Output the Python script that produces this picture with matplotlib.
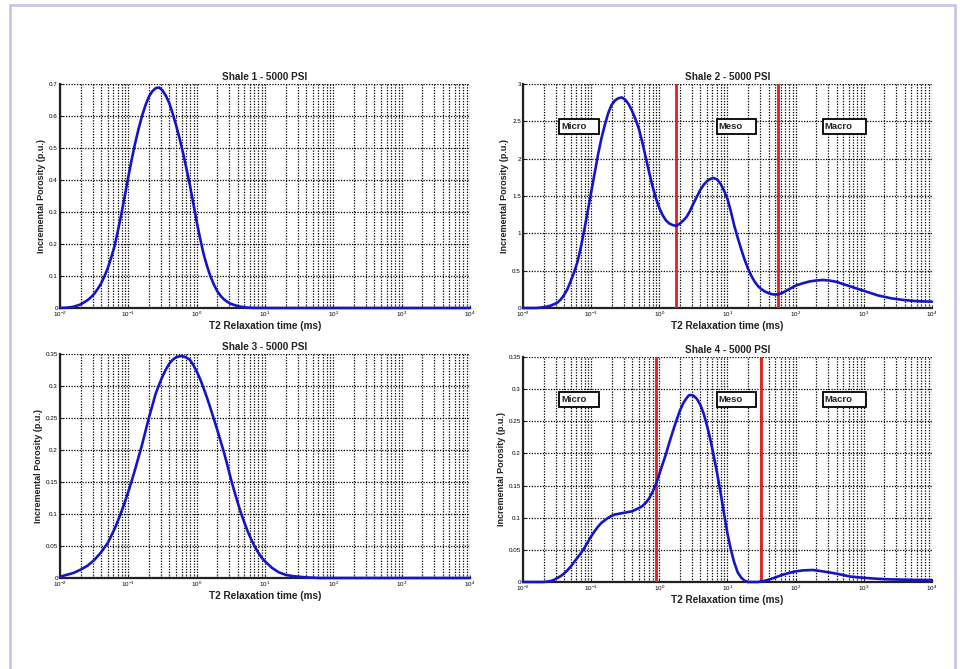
import matplotlib
matplotlib.use("Agg")
import matplotlib.pyplot as plt
import numpy as np
from matplotlib.patches import Rectangle
from matplotlib.ticker import FixedLocator, LogFormatterMathtext, MultipleLocator, FormatStrFormatter, NullFormatter

plt.rcParams['font.family'] = ['Liberation Sans', 'DejaVu Sans']
plt.rcParams['mathtext.fontset'] = 'custom'
plt.rcParams['mathtext.rm'] = 'Liberation Sans'

# ---- data: log10(T2 in ms) positions and incremental porosity (p.u.) ----
titles = ["Shale 1 - 5000 PSI", "Shale 2 - 5000 PSI", "Shale 3 - 5000 PSI", "Shale 4 - 5000 PSI"]

s1_logt2 = [-2.0, -1.9, -1.8, -1.7, -1.6, -1.55, -1.5, -1.45, -1.4, -1.35, -1.3, -1.25, -1.2, -1.15,
            -1.1, -1.05, -1.0, -0.95, -0.9, -0.85, -0.8, -0.75, -0.7, -0.65, -0.6, -0.55, -0.5, -0.45,
            -0.4, -0.35, -0.3, -0.25, -0.2, -0.15, -0.1, -0.05, 0.0, 0.05, 0.1, 0.15, 0.2, 0.25, 0.3,
            0.35, 0.4, 0.45, 0.5, 0.6, 0.7, 0.8, 1.0, 4.0]
s1_por = [0.0, 0.001, 0.004, 0.011, 0.024, 0.033, 0.044, 0.059, 0.076, 0.099, 0.125, 0.158, 0.195, 0.244,
          0.296, 0.353, 0.41, 0.465, 0.515, 0.56, 0.6, 0.633, 0.66, 0.677, 0.687, 0.689, 0.68, 0.663,
          0.64, 0.607, 0.57, 0.53, 0.485, 0.436, 0.385, 0.328, 0.27, 0.218, 0.17, 0.132, 0.1, 0.074, 0.053,
          0.038, 0.027, 0.019, 0.013, 0.006, 0.002, 0.0005, 0.0, 0.0]

s2_logt2 = [-2.0, -1.8, -1.7, -1.65, -1.6, -1.55, -1.5, -1.45, -1.4, -1.35, -1.3, -1.25, -1.2, -1.15,
            -1.1, -1.05, -1.0, -0.95, -0.9, -0.85, -0.8, -0.75, -0.7, -0.65, -0.6, -0.55, -0.5, -0.45,
            -0.4, -0.35, -0.3, -0.25, -0.2, -0.15, -0.1, -0.05, 0.0, 0.05, 0.1, 0.15, 0.2, 0.25, 0.3,
            0.35, 0.4, 0.45, 0.5, 0.55, 0.6, 0.65, 0.7, 0.75, 0.8, 0.85, 0.9, 0.95, 1.0, 1.05, 1.1, 1.15,
            1.2, 1.25, 1.3, 1.35, 1.4, 1.45, 1.5, 1.55, 1.6, 1.65, 1.7, 1.75, 1.8, 1.85, 1.9, 1.95, 2.0,
            2.1, 2.2, 2.3, 2.4, 2.5, 2.6, 2.7, 2.8, 3.0, 3.2, 3.4, 3.6, 3.8, 4.0]
s2_por = [0.0, 0.0, 0.01, 0.018, 0.03, 0.048, 0.07, 0.11, 0.17, 0.25, 0.36, 0.48, 0.62, 0.82,
          1.05, 1.3, 1.55, 1.80, 2.05, 2.27, 2.45, 2.61, 2.72, 2.78, 2.81, 2.82, 2.79, 2.73,
          2.64, 2.53, 2.40, 2.22, 2.02, 1.82, 1.63, 1.47, 1.34, 1.24, 1.17, 1.13, 1.11, 1.10, 1.13,
          1.17, 1.22, 1.30, 1.40, 1.49, 1.58, 1.65, 1.70, 1.73, 1.74, 1.72, 1.66, 1.57, 1.46, 1.29, 1.10, 0.94,
          0.79, 0.65, 0.53, 0.43, 0.35, 0.29, 0.25, 0.22, 0.20, 0.185, 0.18, 0.185, 0.20, 0.225, 0.25, 0.275, 0.30,
          0.33, 0.355, 0.368, 0.375, 0.367, 0.35, 0.32, 0.29, 0.23, 0.17, 0.13, 0.105, 0.09, 0.085]

s3_logt2 = [-2.0, -1.9, -1.8, -1.7, -1.6, -1.5, -1.4, -1.3, -1.2, -1.15, -1.1, -1.05, -1.0, -0.95, -0.9,
            -0.85, -0.8, -0.75, -0.7, -0.65, -0.6, -0.55, -0.5, -0.45, -0.4, -0.35, -0.3, -0.22, -0.16,
            -0.1, -0.05, 0.0, 0.05, 0.1, 0.15, 0.2, 0.25, 0.3, 0.35, 0.4, 0.45, 0.5, 0.55, 0.6, 0.65,
            0.7, 0.75, 0.8, 0.85, 0.9, 0.95, 1.0, 1.1, 1.2, 1.3, 1.4, 1.6, 1.8, 4.0]
s3_por = [0.002, 0.005, 0.008, 0.013, 0.019, 0.028, 0.04, 0.055, 0.077, 0.09, 0.104, 0.119, 0.135, 0.152,
          0.17, 0.189, 0.208, 0.229, 0.25, 0.269, 0.288, 0.302, 0.315, 0.326, 0.335, 0.341, 0.345, 0.347,
          0.345, 0.341, 0.333, 0.323, 0.311, 0.297, 0.282, 0.266, 0.249, 0.232, 0.214, 0.196, 0.176, 0.155,
          0.136, 0.118, 0.101, 0.086, 0.072, 0.06, 0.049, 0.04, 0.032, 0.026, 0.016, 0.009, 0.005, 0.003,
          0.001, 0.0, 0.0]

s4_logt2 = [-2.0, -1.7, -1.65, -1.6, -1.55, -1.5, -1.45, -1.4, -1.35, -1.3, -1.25, -1.2, -1.15, -1.1,
            -1.05, -1.0, -0.95, -0.9, -0.85, -0.8, -0.75, -0.7, -0.65, -0.6, -0.5, -0.4, -0.3, -0.25,
            -0.2, -0.15, -0.1, -0.05, 0.0, 0.05, 0.1, 0.15, 0.2, 0.25, 0.3, 0.35, 0.4, 0.43, 0.46, 0.5,
            0.55, 0.6, 0.65, 0.7, 0.75, 0.8, 0.85, 0.9, 0.95, 1.0, 1.05, 1.1, 1.15, 1.2, 1.25, 1.3, 1.45,
            1.55, 1.6, 1.7, 1.8, 1.9, 2.0, 2.1, 2.25, 2.4, 2.6, 2.8, 3.0, 3.2, 3.4, 3.6, 3.8, 4.0]
s4_por = [0.0, 0.0, 0.0005, 0.0015, 0.003, 0.006, 0.009, 0.013, 0.018, 0.024, 0.031, 0.038, 0.045, 0.053,
          0.062, 0.071, 0.079, 0.086, 0.092, 0.096, 0.1, 0.103, 0.105, 0.106, 0.108, 0.110, 0.115, 0.118,
          0.123, 0.13, 0.14, 0.152, 0.168, 0.184, 0.2, 0.218, 0.235, 0.251, 0.266, 0.278, 0.286, 0.29, 0.291, 0.29,
          0.285, 0.276, 0.262, 0.243, 0.221, 0.195, 0.168, 0.138, 0.106, 0.075, 0.05, 0.03, 0.015, 0.007, 0.002,
          0.0, 0.0, 0.002, 0.0035, 0.007, 0.011, 0.014, 0.0165, 0.018, 0.0187, 0.0165, 0.013, 0.0085,
          0.0065, 0.005, 0.004, 0.0036, 0.0032, 0.003]

x_ticks = [1e-2, 1e-1, 1e0, 1e1, 1e2, 1e3, 1e4]
y_max = [0.7, 3.0, 0.35, 0.35]
y_step = [0.1, 0.5, 0.05, 0.05]
cutoffs = [None, [1.74, 55.5], None, [0.88, 30.7]]
region_labels = ["Micro", "Meso", "Macro"]

series = [(s1_logt2, s1_por), (s2_logt2, s2_por), (s3_logt2, s3_por), (s4_logt2, s4_por)]

# ---- layout ----
W, H = 960, 669
fig = plt.figure(figsize=(W / 100, H / 100), dpi=100)

# lavender frame
fig.add_artist(Rectangle((10 / W, -0.01), 945 / W, 1 - 5 / H + 0.01, transform=fig.transFigure,
                         fill=False, edgecolor='#c6c6e6', linewidth=2.0))

axes_px = [(60, 84, 410, 224), (523, 84, 409, 224), (60, 354, 410, 224), (523, 357, 409, 225)]
minor_ticks = [m * 10.0 ** e for e in range(-2, 4) for m in range(2, 10)]

for i, (lx, ty, w, h) in enumerate(axes_px):
    ax = fig.add_axes([lx / W, 1 - (ty + h) / H, w / W, h / H])
    lt, por = series[i]
    t2 = np.power(10.0, np.array(lt))
    ax.set_xscale('log')
    ax.xaxis.set_major_locator(FixedLocator(x_ticks))
    ax.xaxis.set_minor_locator(FixedLocator(minor_ticks))
    ax.xaxis.set_major_formatter(LogFormatterMathtext())
    ax.xaxis.set_minor_formatter(NullFormatter())
    ax.set_xlim(1e-2, 1e4)
    ax.set_ylim(0, y_max[i])
    ax.yaxis.set_major_locator(MultipleLocator(y_step[i]))
    ax.yaxis.set_major_formatter(FormatStrFormatter('%g'))
    ax.grid(True, which='major', axis='both', linestyle=(0, (1, 1.2)), color='black', linewidth=0.9)
    ax.grid(True, which='minor', axis='x', linestyle=(0, (1, 1.2)), color='black', linewidth=0.9)
    ax.set_axisbelow(True)
    for s in ['top', 'right']:
        ax.spines[s].set_visible(False)
    for s in ['left', 'bottom']:
        ax.spines[s].set_linewidth(1.6)
        ax.spines[s].set_color('#222222')
    ax.tick_params(which='both', direction='in', labelsize=4.5, length=2, width=0.6, pad=1.5)
    ax.tick_params(which='minor', length=1.2)

    if cutoffs[i] is not None:
        for c in cutoffs[i]:
            ax.axvline(c, color='#e02020', linewidth=2.0, zorder=3)
        for lab, fx in zip(region_labels, [0.088, 0.474, 0.733]):
            bw = {"Micro": 40, "Meso": 39, "Macro": 43}[lab] / w
            bh = 15 / h
            ax.add_patch(Rectangle((fx, 0.81 - bh / 2), bw, bh, transform=ax.transAxes,
                                   facecolor='white', edgecolor='black', linewidth=1.3, zorder=5))
            ax.text(fx + 2 / w, 0.81, lab, transform=ax.transAxes, ha='left', va='center',
                    fontsize=6.8, fontweight='bold', zorder=6, color='#222222')

    ax.plot(t2, por, color='#1515c8', linewidth=1.9, zorder=4, clip_on=False,
            solid_joinstyle='round', solid_capstyle='round')
    ax.set_title(titles[i], fontsize=7.2, fontweight='bold', pad=3, color='#222222')
    ax.set_xlabel("T2 Relaxation time (ms)", fontsize=7.2, fontweight='bold', labelpad=1, color='#222222')
    ax.set_ylabel("Incremental Porosity (p.u.)", fontsize=6.5, fontweight='bold', labelpad=2, color='#222222')

fig.savefig("out.png", dpi=100)
